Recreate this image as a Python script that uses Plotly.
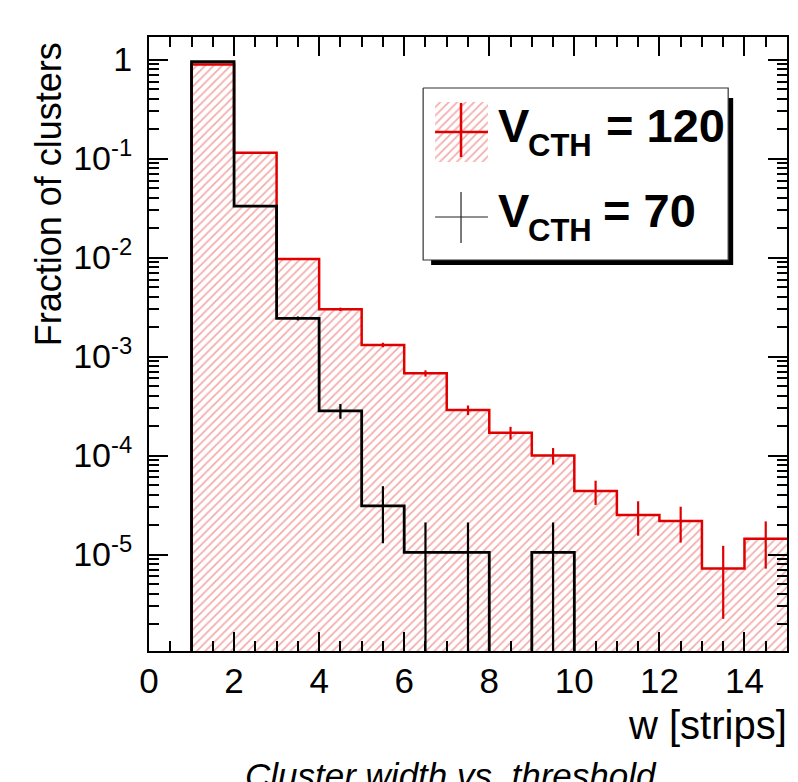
import math
import plotly.graph_objects as go

# ---------------- data ----------------
bin_edges = list(range(0, 16))
bin_centers = [e + 0.5 for e in range(0, 15)]

red_label = "120"
black_label = "70"

red_vals = [0, 0.89, 0.1145, 0.00966, 0.0030, 0.00131, 6.76e-4, 2.88e-4,
            1.70e-4, 1.00e-4, 4.37e-5, 2.5e-5, 2.18e-5, 7.24e-6, 1.44e-5]
red_errs = [0, 0.002, 0.0007, 2.0e-4, 1.2e-4, 6.8e-5, 4.9e-5, 3.2e-5,
            2.5e-5, 1.9e-5, 1.2e-5, 0.95e-5, 0.86e-5, 5.0e-6, 7.2e-6]
black_vals = [0, 0.95, 0.0331, 0.00243, 2.83e-4, 3.1e-5, 1.05e-5, 1.05e-5,
              0, 1.05e-5, 0, 0, 0, 0, 0]
black_errs = [0, 0.003, 6e-4, 1.1e-4, 4.8e-5, 1.8e-5, 1.05e-5, 1.05e-5,
              0, 1.05e-5, 0, 0, 0, 0, 0]

y_tickvals = [1, 1e-1, 1e-2, 1e-3, 1e-4, 1e-5]
y_ticktext = ["1", "10<sup>-1</sup>", "10<sup>-2</sup>", "10<sup>-3</sup>",
              "10<sup>-4</sup>", "10<sup>-5</sup>"]
y_min, y_max = 1.06e-6, 1.69
x_title = "w [strips]"
y_title = "Fraction of clusters"
caption = "Cluster width vs. threshold"

# ---------------- layout geometry ----------------
W, H = 798, 782
L, R, T, B = 149, 789, 37, 651  # plot area in px
FLOOR = 1e-9  # drawing floor for empty bins (below axis range)
FONT = "Liberation Sans, Arial, Helvetica, sans-serif"
HATCH = "#e85a5a"
RED = "#e00000"


def px(x):
    return (x - L) / (R - L)


def py(y):
    return (B - y) / (B - T)


def step_y(vals):
    v = [val if val > 0 else FLOOR for val in vals]
    return v + [v[-1]]


fig = go.Figure()

# hatched fill under red histogram
fig.add_trace(go.Bar(
    x=bin_centers, y=red_vals, base=FLOOR, width=1.0,
    marker=dict(color="rgba(0,0,0,0)", line=dict(width=0),
                pattern=dict(shape="/", fgcolor=HATCH, bgcolor="rgba(0,0,0,0)",
                             size=6, solidity=0.3)),
    showlegend=False, hoverinfo="skip"))

# outlines
fig.add_trace(go.Scatter(x=bin_edges, y=step_y(red_vals), mode="lines",
                         line=dict(color=RED, width=2.5, shape="hv"),
                         showlegend=False, hoverinfo="skip"))
fig.add_trace(go.Scatter(x=bin_edges, y=step_y(black_vals), mode="lines",
                         line=dict(color="black", width=2.8, shape="hv"),
                         showlegend=False, hoverinfo="skip"))


def err_trace(vals, errs, color, width):
    xs, ys, ep, em = [], [], [], []
    for c, v, e in zip(bin_centers, vals, errs):
        if v > 0:
            xs.append(c)
            ys.append(v)
            ep.append(e)
            em.append(min(e, v * 0.999))
    return go.Scatter(x=xs, y=ys, mode="markers",
                      marker=dict(size=1, color=color, opacity=0),
                      error_y=dict(type="data", array=ep, arrayminus=em,
                                   color=color, thickness=width, width=0),
                      showlegend=False, hoverinfo="skip")


fig.add_trace(err_trace(red_vals, red_errs, RED, 2.2))
fig.add_trace(err_trace(black_vals, black_errs, "black", 2.2))

# ---------------- hand-drawn ROOT-style legend (pixel overlay axes) ----------------
def rect(x0, y0, x1, y1, fill, line_color=None, lw=0, pattern=None):
    kw = dict(x=[x0, x1, x1, x0, x0], y=[y0, y0, y1, y1, y0], mode="lines",
              fill="toself", xaxis="x2", yaxis="y2", showlegend=False,
              hoverinfo="skip")
    if line_color:
        kw["line"] = dict(color=line_color, width=lw)
    else:
        kw["line"] = dict(width=0, color="rgba(0,0,0,0)")
    kw["fillcolor"] = fill
    if pattern:
        kw["fillpattern"] = pattern
    return go.Scatter(**kw)


def seg(x0, y0, x1, y1, color, lw):
    return go.Scatter(x=[x0, x1], y=[y0, y1], mode="lines", xaxis="x2", yaxis="y2",
                      line=dict(color=color, width=lw), showlegend=False,
                      hoverinfo="skip")


fig.add_trace(rect(432, 98, 735, 265, "black"))
fig.add_trace(rect(424, 88, 730, 260, "white", "#333333", 1.2))
fig.add_trace(rect(436, 102, 489, 162, "rgba(0,0,0,0)",
                   pattern=dict(shape="/", fgcolor=HATCH, bgcolor="white",
                                size=6, solidity=0.3)))
fig.add_trace(seg(436, 132, 489, 132, RED, 2.5))
fig.add_trace(seg(462, 103, 462, 157, RED, 2.5))
fig.add_trace(seg(436, 217, 489, 217, "#222222", 1.2))
fig.add_trace(seg(462, 192, 462, 243, "#222222", 1.2))

annotations = []


def ann(text, x, y, size, xanchor="left", yanchor="middle", bold=False,
        italic=False, angle=0, ref="paper"):
    d = dict(text=text, x=x, y=y, xanchor=xanchor, yanchor=yanchor,
             showarrow=False, textangle=angle,
             font=dict(family=FONT, size=size, color="black",
                       weight="bold" if bold else "normal",
                       style="italic" if italic else "normal"))
    if ref == "paper":
        d.update(xref="paper", yref="paper")
    else:
        d.update(xref="x2", yref="y2")
    annotations.append(d)


LEG = 47
SUB = 31
for lab, base_y, right_x in [(red_label, 142, 729), (black_label, 227, 700)]:
    ann("V", 497, base_y - 0.346 * LEG, LEG, bold=True, ref="px")
    ann("CTH", 527, base_y + 14 - 0.346 * SUB, SUB, bold=True, ref="px")
    ann("= " + lab, right_x, base_y - 0.346 * LEG, LEG, xanchor="right",
        bold=True, ref="px")

# axis titles and caption
ann(x_title, px(791), py(725), 40, xanchor="right")
ann(y_title, px(48), py(194), 36, xanchor="center", angle=-90)
ann(caption, px(452), py(775), 35, xanchor="center", italic=True)

# minor tick positions for log axis
minor_vals = []
for d in range(-6, 1):
    for m in range(2, 10):
        minor_vals.append(m * 10 ** d)

axis_common = dict(showline=True, linecolor="black", linewidth=2, mirror="allticks",
                   ticks="inside", tickcolor="black", tickwidth=1.5, showgrid=False,
                   zeroline=False, layer="above traces")

fig.update_layout(
    width=W, height=H,
    margin=dict(l=L, r=W - R, t=T, b=H - B, pad=0),
    paper_bgcolor="white", plot_bgcolor="white",
    bargap=0, barmode="overlay", showlegend=False,
    xaxis=dict(range=[0, 15], tickmode="linear", tick0=0, dtick=2, ticklen=19,
               ticklabelstandoff=-2,
               tickfont=dict(family=FONT, size=35, color="black"),
               minor=dict(dtick=0.5, tick0=0, ticklen=10, ticks="inside",
                          tickcolor="black", tickwidth=1.5, showgrid=False),
               **axis_common),
    yaxis=dict(type="log", range=[math.log10(y_min), math.log10(y_max)],
               tickmode="array", tickvals=y_tickvals, ticktext=y_ticktext, ticklen=19,
               ticklabelstandoff=8,
               tickfont=dict(family=FONT, size=34, color="black"),
               minor=dict(tickmode="array", tickvals=minor_vals, ticklen=10,
                          ticks="inside", tickcolor="black", tickwidth=1.5,
                          showgrid=False),
               **axis_common),
    xaxis2=dict(range=[L, R], overlaying="x", visible=False, fixedrange=True),
    yaxis2=dict(range=[B, T], overlaying="y", visible=False, fixedrange=True),
    annotations=annotations,
)

fig.write_html("out.html")
